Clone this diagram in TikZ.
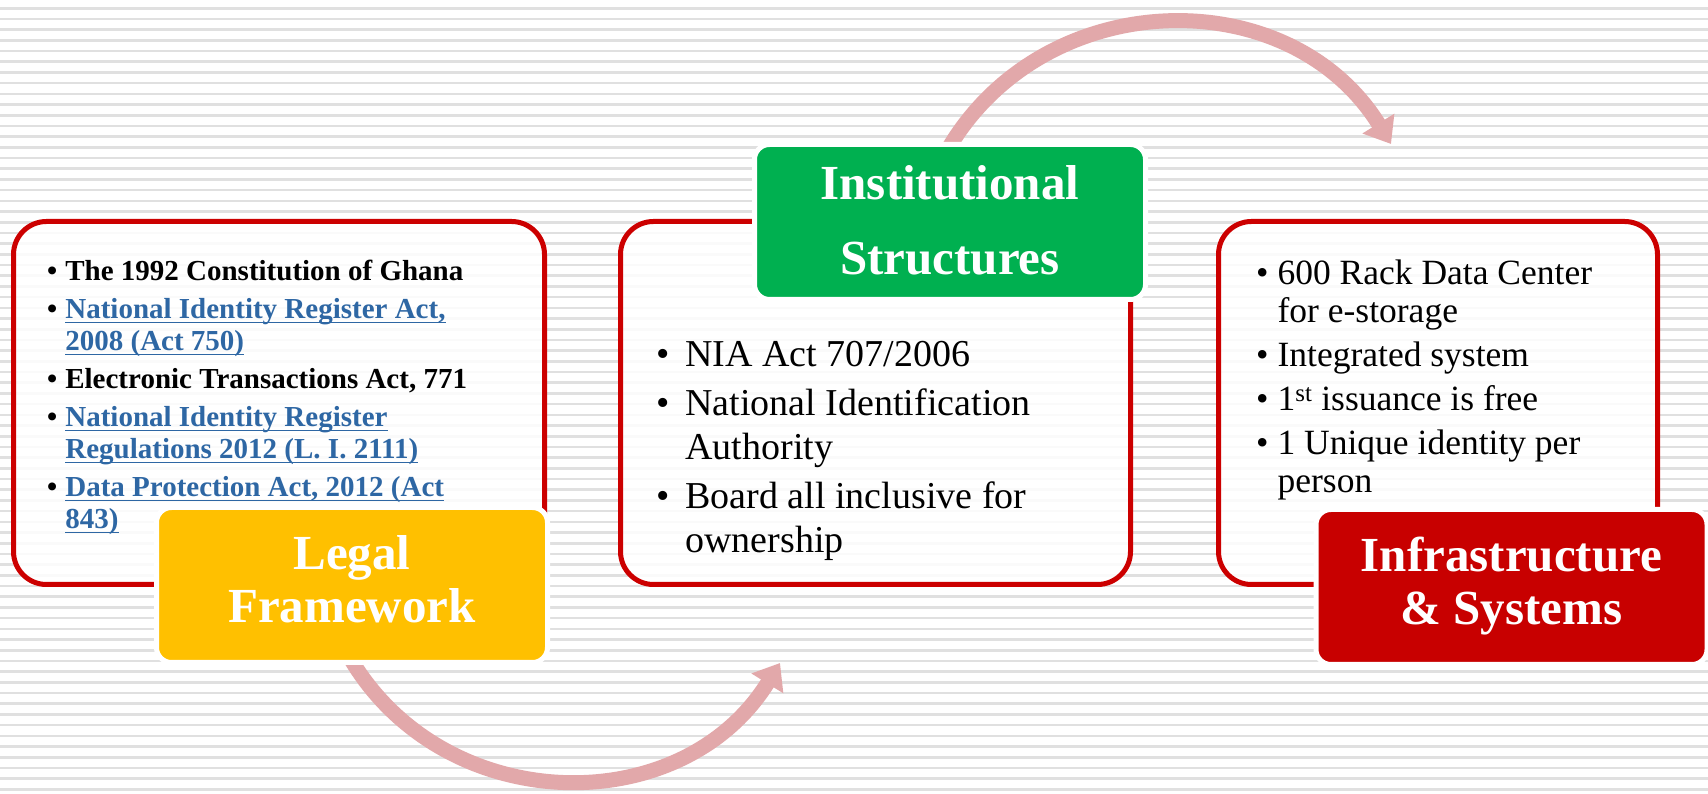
\documentclass[tikz,border=0pt]{standalone}
\usepackage{fontspec}
\setmainfont{Liberation Serif}
\usetikzlibrary{arrows.meta, positioning}

\definecolor{boxred}{RGB}{204,0,0}
\definecolor{titlered}{RGB}{200,0,0}
\definecolor{legalyellow}{RGB}{255,192,0}
\definecolor{instgreen}{RGB}{0,176,80}
\definecolor{linkblue}{RGB}{46,103,164}
\definecolor{flowpink}{RGB}{226,168,170}
\definecolor{stripegray}{RGB}{224,224,224}

% underlined link text, rule at a fixed depth
\newcommand{\weblink}[1]{\textcolor{linkblue}{\setbox0=\hbox{#1}\rlap{\rule[-4.5pt]{\wd0}{1.4pt}}\box0}}

\begin{document}
\begin{tikzpicture}[x=1pt, y=1pt, node distance=71pt,
    panel/.style={draw=boxred, line width=5pt, rounded corners=33pt, fill=white, fill opacity=0.85,
        minimum height=363pt, inner sep=0},
    title/.style={draw=white, line width=5pt, rounded corners=15pt, minimum width=391pt,
        minimum height=155pt, inner sep=0, text=white, align=center, font=\fontsize{49}{53}\selectfont\bfseries},
    bullets/.style={anchor=base west, inner sep=0},
    flow/.style={draw=flowpink, line width=15pt, -{Triangle[width=36pt, length=24pt]}},
    stripe/.style={fill=stripegray}]
    \useasboundingbox (0,0) rectangle (1708,794);
    \fill[white] (0,0) rectangle (1708,794);
    \foreach \k in {0,...,73}
        \fill[stripe] (0,{785.7-10.7*\k-1.3}) rectangle (1708,{785.7-10.7*\k+1.3});

    % arrows between the stages
    \coordinate (topstart) at (943,636);
    \coordinate (topend) at (1391,650);
    \coordinate (botstart) at (345,145);
    \coordinate (botend) at (780,131);
    \draw[flow] (topstart) to[bend left=60, looseness=1.12] (topend);
    \draw[flow] (botstart) to[bend right=60, looseness=1.12] (botend);

    % panels
    \node[panel, minimum width=531pt] (legal) at (279,391) {};
    \node[panel, minimum width=510pt] (inst) [right=of legal] {};
    \node[panel, minimum width=439pt] (infra) [right=83pt of inst] {};

    % titles
    \node[title, fill=legalyellow] (legaltitle) at (352,209) {\strut Legal\\\strut Framework};
    \node[title, fill=instgreen, font=\fontsize{49}{75}\selectfont\bfseries] (insttitle) at (950,572)
        {\strut Institutional\\\strut Structures};
    \node[title, fill=titlered] (infratitle) at (1511.5,207) {\strut Infrastructure\\\strut \& Systems};

    % bullet lists
    \node[bullets, font=\fontsize{29}{32}\selectfont\bfseries] (legaltext) at (47,513) {%
        \begin{tabular}[t]{@{}l@{\hspace{8pt}}l@{}}
        \textbullet & The 1992 Constitution of Ghana\\[6pt]
        \textbullet & \weblink{National Identity Register Act,}\\
                    & \weblink{2008 (Act 750)}\\[6pt]
        \textbullet & Electronic Transactions Act, 771\\[6pt]
        \textbullet & \weblink{National Identity Register}\\
                    & \weblink{Regulations 2012 (L. I. 2111)}\\[6pt]
        \textbullet & \weblink{Data Protection Act, 2012 (Act}\\
                    & \weblink{843)}
        \end{tabular}};
    \node[bullets, font=\fontsize{38}{44}\selectfont] (insttext) at (656,427) {%
        \begin{tabular}[t]{@{}l@{\hspace{16pt}}l@{}}
        \textbullet & NIA Act 707/2006\\[5pt]
        \textbullet & National Identification\\
                    & Authority\\[5pt]
        \textbullet & Board all inclusive for\\
                    & ownership
        \end{tabular}};
    \node[bullets, font=\fontsize{35.5}{38}\selectfont] (infratext) at (1256,509) {%
        \begin{tabular}[t]{@{}l@{\hspace{9pt}}l@{}}
        \textbullet & 600 Rack Data Center\\
                    & for e-storage\\[6pt]
        \textbullet & Integrated system\\[6pt]
        \textbullet & 1\textsuperscript{st} issuance is free\\[6pt]
        \textbullet & 1 Unique identity per\\
                    & person
        \end{tabular}};
\end{tikzpicture}
\end{document}
